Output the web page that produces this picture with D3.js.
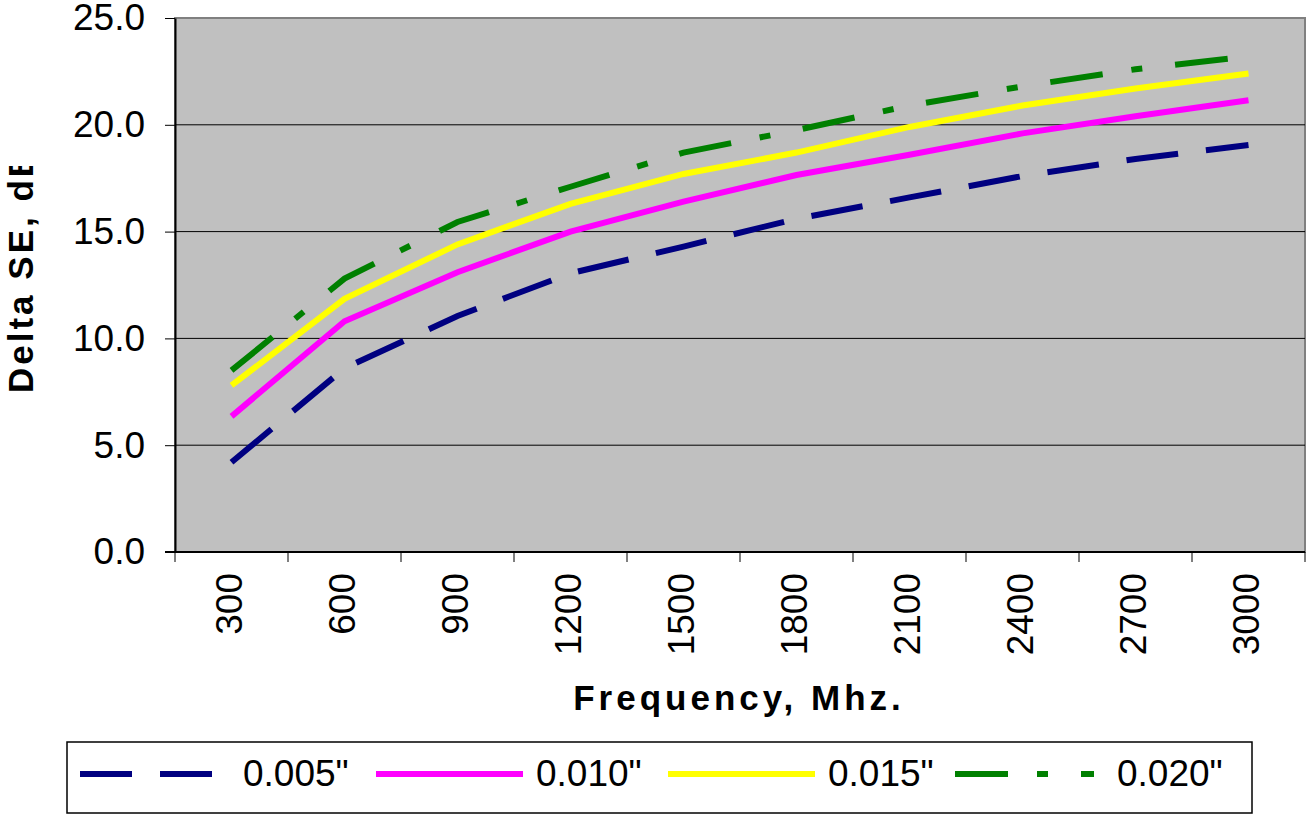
<!DOCTYPE html>
<html>
<head>
<meta charset="utf-8">
<script src="https://cdn.jsdelivr.net/npm/d3@7"></script>
<style>
  body { margin: 0; background: #fff; }
  text { font-family: "Liberation Sans", Arial, sans-serif; }
</style>
</head>
<body>
<div id="chart"></div>
<script>
// data
var frequencies = ["300", "600", "900", "1200", "1500", "1800", "2100", "2400", "2700", "3000"];
var yTicks = [0, 5, 10, 15, 20, 25];
var seriesNames = ["0.005\"", "0.010\"", "0.015\"", "0.020\""];
var s005 = [4.2, 8.6, 11.05, 13.05, 14.3, 15.6, 16.6, 17.6, 18.4, 19.05];
var s010 = [6.35, 10.8, 13.1, 15.0, 16.4, 17.65, 18.6, 19.6, 20.4, 21.15];
var s015 = [7.8, 11.85, 14.4, 16.3, 17.7, 18.7, 19.9, 20.9, 21.7, 22.4];
var s020 = [8.5, 12.8, 15.45, 17.1, 18.7, 19.75, 20.9, 21.8, 22.6, 23.2];

var series = [
  {name: seriesNames[0], values: s005, color: "#000080", dash: "52,28"},
  {name: seriesNames[1], values: s010, color: "#FF00FF", dash: null},
  {name: seriesNames[2], values: s015, color: "#FFFF00", dash: null},
  {name: seriesNames[3], values: s020, color: "#008000", dash: "53,29,11,33"}
];

var W = 1307, H = 815;
var plot = {left: 175, right: 1305, top: 18, bottom: 552};
var fontSize = "37px";

var svg = d3.select("#chart")
  .append("svg")
    .attr("width", W)
    .attr("height", H);

var x = d3.scaleBand()
  .domain(frequencies)
  .range([plot.left, plot.right])
  .padding(0);

var y = d3.scaleLinear()
  .domain([0, 25])
  .range([plot.bottom, plot.top]);

// plot background
svg.append("rect")
  .attr("x", plot.left)
  .attr("y", plot.top)
  .attr("width", plot.right - plot.left)
  .attr("height", plot.bottom - plot.top)
  .attr("fill", "#C0C0C0")
  .attr("stroke", "#808080")
  .attr("stroke-width", 2);

// gridlines
svg.append("g")
  .selectAll("line")
  .data(yTicks.filter(d => d > 0 && d < 25))
  .enter()
  .append("line")
    .attr("x1", plot.left)
    .attr("x2", plot.right)
    .attr("y1", d => y(d))
    .attr("y2", d => y(d))
    .attr("stroke", "#000")
    .attr("stroke-width", 1);

// y axis
var yAxis = svg.append("g")
  .attr("transform", "translate(" + plot.left + ",0)")
  .call(d3.axisLeft(y).tickValues(yTicks).tickFormat(d3.format(".1f")).tickSize(10).tickPadding(20).tickSizeOuter(0));
yAxis.select(".domain").attr("stroke", "#000").attr("stroke-width", 2);
yAxis.selectAll(".tick line").attr("stroke", "#000");
yAxis.selectAll("text")
  .attr("font-size", fontSize)
  .attr("fill", "#000")
  .style("font-family", "Liberation Sans, Arial, sans-serif");

// x axis (ticks at category boundaries)
var xAxis = svg.append("g")
  .attr("transform", "translate(0," + plot.bottom + ")");
xAxis.append("line")
  .attr("x1", plot.left - 10)
  .attr("x2", plot.right)
  .attr("stroke", "#000")
  .attr("stroke-width", 2);
xAxis.selectAll(".xtick")
  .data(frequencies.concat(["end"]))
  .enter()
  .append("line")
    .attr("x1", (d, i) => plot.left + i * x.bandwidth())
    .attr("x2", (d, i) => plot.left + i * x.bandwidth())
    .attr("y1", 0)
    .attr("y2", 10)
    .attr("stroke", "#000");
xAxis.selectAll(".xlabel")
  .data(frequencies)
  .enter()
  .append("text")
    .attr("transform", d => "translate(" + (x(d) + x.bandwidth() / 2 - 2) + ",21) rotate(-90)")
    .attr("text-anchor", "end")
    .attr("dy", "0.35em")
    .attr("font-size", fontSize)
    .text(d => d);

// axis titles
svg.append("text")
  .attr("x", 739)
  .attr("y", 710)
  .attr("text-anchor", "middle")
  .attr("font-size", "35px")
  .attr("font-weight", "bold")
  .attr("letter-spacing", "4px")
  .text("Frequency, Mhz.");

svg.append("clipPath")
  .attr("id", "ytitle-clip")
  .append("rect")
    .attr("x", 0).attr("y", 166).attr("width", 60).attr("height", 400);

svg.append("g")
  .attr("clip-path", "url(#ytitle-clip)")
  .append("text")
    .attr("transform", "translate(33,393) rotate(-90)")
    .attr("text-anchor", "start")
    .attr("font-size", "35px")
    .attr("font-weight", "bold")
    .attr("letter-spacing", "3px")
    .text("Delta SE, dB");

// lines
var line = d3.line()
  .x((d, i) => x(frequencies[i]) + x.bandwidth() / 2)
  .y(d => y(d));

svg.append("g")
  .selectAll("path")
  .data(series)
  .enter()
  .append("path")
    .attr("d", d => line(d.values))
    .attr("fill", "none")
    .attr("stroke", d => d.color)
    .attr("stroke-width", 6)
    .attr("stroke-dasharray", d => d.dash);

// legend
var legend = svg.append("g");
legend.append("rect")
  .attr("x", 67)
  .attr("y", 742)
  .attr("width", 1185)
  .attr("height", 71)
  .attr("fill", "#fff")
  .attr("stroke", "#000")
  .attr("stroke-width", 1.5);

var legendPos = [
  {x1: 80, x2: 213, tx: 243},
  {x1: 376, x2: 523, tx: 536},
  {x1: 668, x2: 815, tx: 828},
  {x1: 955, x2: 1094, tx: 1117}
];

var items = legend.selectAll(".item")
  .data(series)
  .enter()
  .append("g");

items.append("line")
  .attr("x1", (d, i) => legendPos[i].x1)
  .attr("x2", (d, i) => legendPos[i].x2)
  .attr("y1", 774)
  .attr("y2", 774)
  .attr("stroke", d => d.color)
  .attr("stroke-width", 6)
  .attr("stroke-dasharray", d => d.dash);

items.append("text")
  .attr("x", (d, i) => legendPos[i].tx)
  .attr("y", 773)
  .attr("dy", "0.36em")
  .attr("font-size", fontSize)
  .text(d => d.name);
</script>
</body>
</html>
